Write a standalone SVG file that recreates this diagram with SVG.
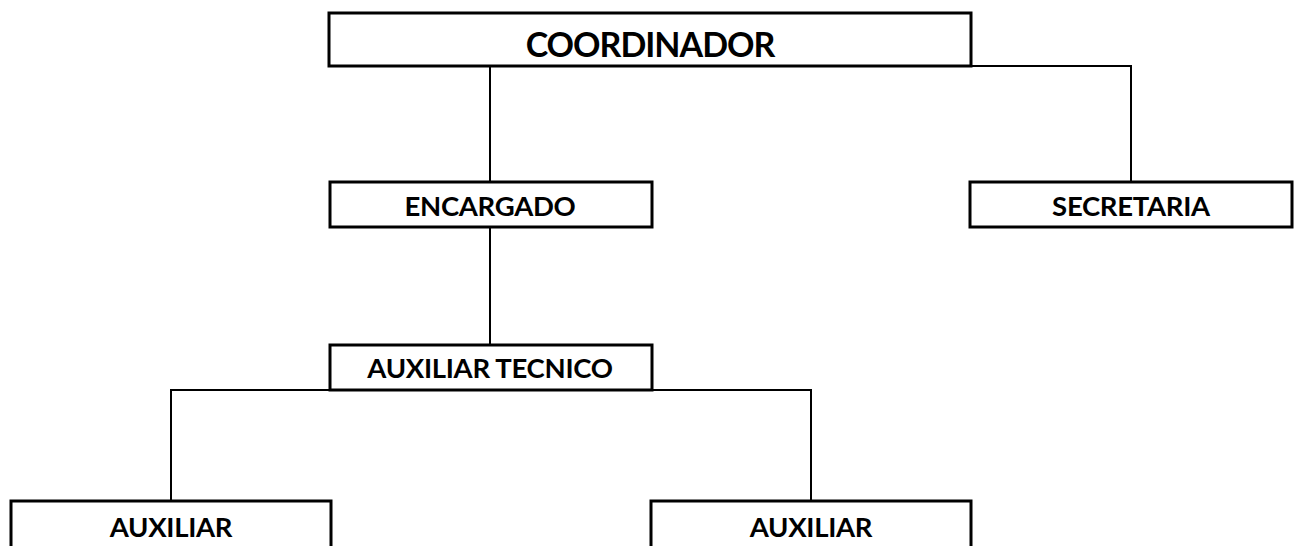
<svg xmlns="http://www.w3.org/2000/svg" width="1295" height="546" viewBox="0 0 1295 546">
<style>
.box{fill:#fff;stroke:#000;stroke-width:3}
.ln{fill:none;stroke:#000;stroke-width:2}
.t{font-family:Lato,"Open Sans",sans-serif;font-weight:bold;fill:#000;text-anchor:middle}
.big{font-size:34px;letter-spacing:-1px}
.sm{font-size:27.5px;letter-spacing:-0.3px}
</style>
<rect width="1295" height="546" fill="#fff"/>
<g id="connectors">
<path class="ln" d="M490,66 V182"/>
<path class="ln" d="M970,66 H1131 V182"/>
<path class="ln" d="M490,227 V345"/>
<path class="ln" d="M171,501 V390 H330"/>
<path class="ln" d="M652,390 H811 V501"/>
</g>
<g id="coordinador">
<rect class="box" x="329" y="13" width="642" height="53"/>
<text class="t big" x="650" y="57">COORDINADOR</text>
</g>
<g id="encargado">
<rect class="box" x="330" y="182" width="322" height="45"/>
<text class="t sm" x="490" y="216">ENCARGADO</text>
</g>
<g id="secretaria">
<rect class="box" x="970" y="182" width="322" height="45"/>
<text class="t sm" x="1131" y="216">SECRETARIA</text>
</g>
<g id="auxiliar-tecnico">
<rect class="box" x="330" y="345" width="322" height="45"/>
<text class="t sm" x="490" y="378">AUXILIAR TECNICO</text>
</g>
<g id="auxiliar-1">
<rect class="box" x="11" y="501" width="320" height="60"/>
<text class="t sm" x="171" y="537">AUXILIAR</text>
</g>
<g id="auxiliar-2">
<rect class="box" x="651" y="501" width="320" height="60"/>
<text class="t sm" x="811" y="537">AUXILIAR</text>
</g>
</svg>
